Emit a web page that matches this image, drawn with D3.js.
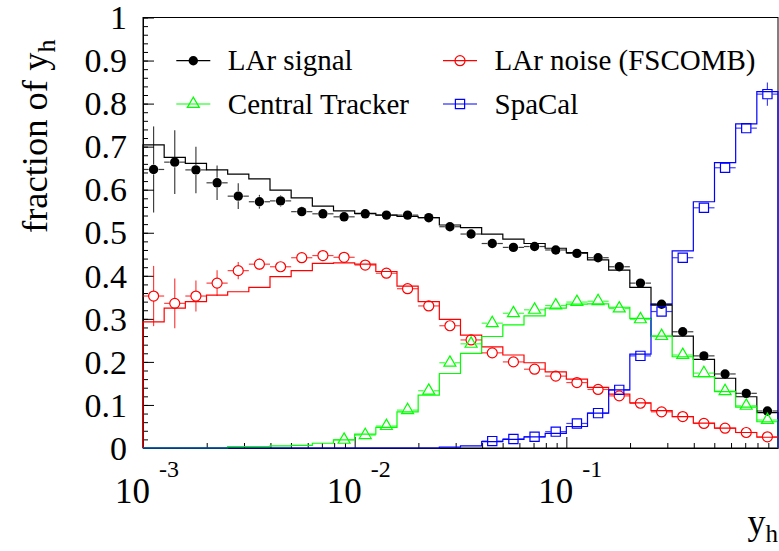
<!DOCTYPE html>
<html>
<head>
<meta charset="utf-8">
<script src="https://cdn.jsdelivr.net/npm/d3@7"></script>
<style>
  body { margin: 0; background: #fff; }
  svg { display: block; font-family: 'Liberation Serif', 'Times New Roman', serif; }
</style>
</head>
<body>
<svg id="chart"></svg>
<script>
var width = 779, height = 551;
var plot = { left: 143, right: 778, top: 17.5, bottom: 448 };

// 30 bins, equal in log10(y_h), from 10^-3 to 1
var logMin = -3, logMax = 0, nBins = 30;

// LAr signal (black)
var larSignalPts = [0.647, 0.664, 0.646, 0.616, 0.585, 0.572, 0.574, 0.549, 0.544, 0.537,
                    0.544, 0.541, 0.541, 0.535, 0.514, 0.497, 0.475, 0.466, 0.468, 0.460,
                    0.452, 0.442, 0.421, 0.383, 0.334, 0.270, 0.214, 0.172, 0.127, 0.086];
var larSignalErr = [0.100, 0.074, 0.054, 0.040, 0.030, 0.016, 0.013, 0.012, 0.010, 0.009,
                    0.008, 0.007, 0.007, 0.006, 0.006, 0.006, 0.006, 0.005, 0.005, 0.005,
                    0.005, 0.005, 0.005, 0.005, 0.005, 0.005, 0.005, 0.005, 0.005, 0.005];
var larSignalHist = [0.704, 0.675, 0.661, 0.646, 0.636, 0.625, 0.599, 0.581, 0.562, 0.551,
                     0.545, 0.541, 0.538, 0.535, 0.518, 0.512, 0.497, 0.485, 0.475, 0.464,
                     0.454, 0.437, 0.413, 0.373, 0.332, 0.260, 0.206, 0.162, 0.119, 0.082];

// LAr noise (FSCOMB) (red)
var larNoisePts = [0.353, 0.336, 0.353, 0.383, 0.412, 0.427, 0.421, 0.442, 0.447, 0.443,
                   0.425, 0.406, 0.370, 0.330, 0.284, 0.251, 0.221, 0.200, 0.183, 0.167,
                   0.152, 0.136, 0.121, 0.104, 0.084, 0.073, 0.057, 0.046, 0.036, 0.026];
var larNoiseErr = [0.070, 0.058, 0.036, 0.030, 0.020, 0.013, 0.010, 0.008, 0.007, 0.006,
                   0.006, 0.005, 0.005, 0.005, 0.005, 0.005, 0.005, 0.004, 0.004, 0.004,
                   0.004, 0.004, 0.004, 0.004, 0.003, 0.003, 0.003, 0.003, 0.003, 0.003];
var larNoiseHist = [0.293, 0.325, 0.340, 0.355, 0.363, 0.373, 0.398, 0.412, 0.429, 0.430,
                    0.427, 0.410, 0.376, 0.340, 0.299, 0.262, 0.235, 0.216, 0.198, 0.177,
                    0.160, 0.141, 0.125, 0.105, 0.087, 0.073, 0.058, 0.046, 0.036, 0.025];

// Central Tracker (green)
var trackerPts = [null, null, null, null, null, null, null, null, null, 0.019,
                  0.030, 0.051, 0.088, 0.133, 0.198, 0.242, 0.290, 0.313, 0.321, 0.331,
                  0.339, 0.341, 0.324, 0.299, 0.260, 0.216, 0.174, 0.132, 0.098, 0.065];
var trackerErr = [0, 0, 0, 0, 0, 0, 0, 0, 0, 0.003,
                  0.003, 0.004, 0.004, 0.005, 0.005, 0.005, 0.005, 0.005, 0.005, 0.005,
                  0.005, 0.005, 0.005, 0.005, 0.005, 0.005, 0.005, 0.005, 0.005, 0.005];
var trackerHist = [0, 0, 0, 0, 0.003, 0.003, 0.005, 0.006, 0.011, 0.019,
                   0.032, 0.048, 0.084, 0.123, 0.173, 0.220, 0.259, 0.286, 0.307, 0.325,
                   0.334, 0.335, 0.327, 0.301, 0.260, 0.212, 0.166, 0.131, 0.095, 0.061];

// SpaCal (blue)
var spacalPts = [null, null, null, null, null, null, null, null, null, null,
                 null, null, null, null, null, null, 0.016, 0.021, 0.026, 0.038,
                 0.057, 0.081, 0.135, 0.214, 0.317, 0.442, 0.558, 0.651, 0.743, 0.822];
var spacalErr = [0, 0, 0, 0, 0, 0, 0, 0, 0, 0,
                 0, 0, 0, 0, 0, 0, 0.003, 0.003, 0.003, 0.003,
                 0.003, 0.004, 0.004, 0.005, 0.005, 0.005, 0.006, 0.008, 0.012, 0.027];
var spacalHist = [0, 0, 0, 0, 0, 0, 0, 0, 0, 0,
                  0, 0, 0, 0, 0.002, 0.005, 0.015, 0.020, 0.026, 0.034,
                  0.050, 0.081, 0.135, 0.218, 0.334, 0.458, 0.572, 0.663, 0.753, 0.828];

var yTickValues = [0, 0.1, 0.2, 0.3, 0.4, 0.5, 0.6, 0.7, 0.8, 0.9, 1];
var yTickLabels = ['0', '0.1', '0.2', '0.3', '0.4', '0.5', '0.6', '0.7', '0.8', '0.9', '1'];
var xTickExponents = [-3, -2, -1];

var series = [
    { name: 'LAr signal', color: '#000000', marker: 'dot', pts: larSignalPts, err: larSignalErr, hist: larSignalHist },
    { name: 'LAr noise (FSCOMB)', color: '#ff0000', marker: 'circle', pts: larNoisePts, err: larNoiseErr, hist: larNoiseHist },
    { name: 'Central Tracker', color: '#00ff00', marker: 'triangle', pts: trackerPts, err: trackerErr, hist: trackerHist },
    { name: 'SpaCal', color: '#0000ff', marker: 'square', pts: spacalPts, err: spacalErr, hist: spacalHist }
];
// legend slots: column, row
var legendSlots = [[0, 0], [1, 0], [0, 1], [1, 1]];

var x = d3.scaleLog().domain([Math.pow(10, logMin), Math.pow(10, logMax)]).range([plot.left, plot.right]);
var y = d3.scaleLinear().domain([0, 1]).range([plot.bottom, plot.top]);

var step = (logMax - logMin) / nBins;
var edges = d3.range(nBins + 1).map(function (i) { return Math.pow(10, logMin + i * step); });
var centers = d3.range(nBins).map(function (i) { return Math.pow(10, logMin + (i + 0.5) * step); });

var svg = d3.select('#chart').attr('width', width).attr('height', height);

// frame
svg.append('rect')
    .attr('x', plot.left).attr('y', plot.top)
    .attr('width', plot.right - plot.left).attr('height', plot.bottom - plot.top)
    .attr('fill', 'none').attr('stroke', '#000').attr('stroke-width', 1);

// Y axis
var yMinor = d3.range(0, 1.0001, 0.02);
svg.append('g')
    .attr('transform', 'translate(' + plot.left + ',0)')
    .call(d3.axisLeft(y).tickValues(yMinor).tickSize(-5).tickSizeOuter(0).tickFormat(''))
    .call(function (g) { g.select('.domain').remove(); });
var yAxis = svg.append('g')
    .attr('transform', 'translate(' + plot.left + ',0)')
    .call(d3.axisLeft(y).tickValues(yTickValues).tickSize(-11).tickSizeOuter(0).tickPadding(16)
        .tickFormat(function (d, i) { return yTickLabels[i]; }));
yAxis.attr('font-family', null).attr('font-size', 34);
yAxis.selectAll('text').attr('dy', '0.33em');

// X axis
var xMinor = [];
xTickExponents.forEach(function (e) {
    for (var k = 2; k <= 9; k++) xMinor.push(k * Math.pow(10, e));
});
svg.append('g')
    .attr('transform', 'translate(0,' + plot.bottom + ')')
    .call(d3.axisBottom(x).tickValues(xMinor).tickSize(-5).tickSizeOuter(0).tickFormat(''))
    .call(function (g) { g.select('.domain').remove(); });
svg.append('g')
    .attr('transform', 'translate(0,' + plot.bottom + ')')
    .call(d3.axisBottom(x).tickValues(xTickExponents.map(function (e) { return Math.pow(10, e); }))
        .tickSize(-11).tickSizeOuter(0).tickFormat(''));

var xLabels = svg.append('g').attr('fill', '#000');
xTickExponents.forEach(function (e) {
    var px = x(Math.pow(10, e));
    xLabels.append('text').attr('x', px + 7).attr('y', 503)
        .attr('text-anchor', 'end').attr('font-size', 35).text('10');
    xLabels.append('text').attr('x', px + 16).attr('y', 477)
        .attr('font-size', 24).text(String(e));
});

// axis titles
var yTitle = svg.append('text')
    .attr('transform', 'translate(47,233) rotate(-90)')
    .attr('font-size', 36.5);
yTitle.append('tspan').text('fraction of y');
yTitle.append('tspan').attr('font-size', 26).attr('dy', '0.3em').text('h');

var xTitle = svg.append('text')
    .attr('x', 778).attr('y', 534)
    .attr('text-anchor', 'end').attr('font-size', 36);
xTitle.append('tspan').text('y');
xTitle.append('tspan').attr('font-size', 25).attr('dy', '0.3em').text('h');

// histograms
var line = d3.line()
    .x(function (d) { return x(d[0]); })
    .y(function (d) { return y(d[1]); })
    .curve(d3.curveStepAfter);

series.forEach(function (s) {
    var pts = [[edges[0], 0]];
    s.hist.forEach(function (v, i) { pts.push([edges[i], v]); });
    pts.push([edges[nBins], s.hist[nBins - 1]]);
    pts.push([edges[nBins], 0]);
    svg.append('path')
        .attr('d', line(pts))
        .attr('fill', 'none')
        .attr('stroke', s.color)
        .attr('stroke-width', 1.2);
});

// markers
function drawMarker(g, type, color, cx, cy) {
    if (type === 'dot') {
        g.append('circle').attr('cx', cx).attr('cy', cy).attr('r', 4.7).attr('fill', color);
    } else if (type === 'circle') {
        g.append('circle').attr('cx', cx).attr('cy', cy).attr('r', 5)
            .attr('fill', 'none').attr('stroke', color).attr('stroke-width', 1.2);
    } else if (type === 'triangle') {
        g.append('path').attr('d', d3.symbol(d3.symbolTriangle, 62)())
            .attr('transform', 'translate(' + cx + ',' + cy + ')')
            .attr('fill', 'none').attr('stroke', color).attr('stroke-width', 1.2);
    } else {
        g.append('path').attr('d', d3.symbol(d3.symbolSquare, 85)())
            .attr('transform', 'translate(' + cx + ',' + cy + ')')
            .attr('fill', 'none').attr('stroke', color).attr('stroke-width', 1.2);
    }
}

var gap = 5;
series.forEach(function (s) {
    var g = svg.append('g');
    s.pts.forEach(function (v, i) {
        if (v === null) return;
        var cx = x(centers[i]), cy = y(v);
        var x0 = x(edges[i]), x1 = x(edges[i + 1]);
        var yTop = y(v + s.err[i]), yBot = y(Math.max(v - s.err[i], 0));
        var bars = g.append('g').attr('stroke', s.color).attr('stroke-width', 1.2).attr('stroke-opacity', 0.75);
        bars.append('line').attr('x1', x0).attr('x2', cx - gap).attr('y1', cy).attr('y2', cy);
        bars.append('line').attr('x1', cx + gap).attr('x2', x1).attr('y1', cy).attr('y2', cy);
        if (cy - yTop > gap) bars.append('line').attr('x1', cx).attr('x2', cx).attr('y1', yTop).attr('y2', cy - gap);
        if (yBot - cy > gap) bars.append('line').attr('x1', cx).attr('x2', cx).attr('y1', cy + gap).attr('y2', yBot);
        drawMarker(g, s.marker, s.color, cx, cy);
    });
});

// legend
var legendCols = [193.3, 460], legendRows = [60.7, 104];
var legend = svg.append('g');
series.forEach(function (s, i) {
    var mx = legendCols[legendSlots[i][0]], my = legendRows[legendSlots[i][1]];
    legend.append('line')
        .attr('x1', mx - 17).attr('x2', mx + 17).attr('y1', my).attr('y2', my)
        .attr('stroke', s.color).attr('stroke-width', 1.2);
    drawMarker(legend, s.marker, s.color, mx, my);
    legend.append('text')
        .attr('x', mx + 34.5).attr('y', my + 9.5)
        .attr('font-size', 29)
        .text(s.name);
});
</script>
</body>
</html>
